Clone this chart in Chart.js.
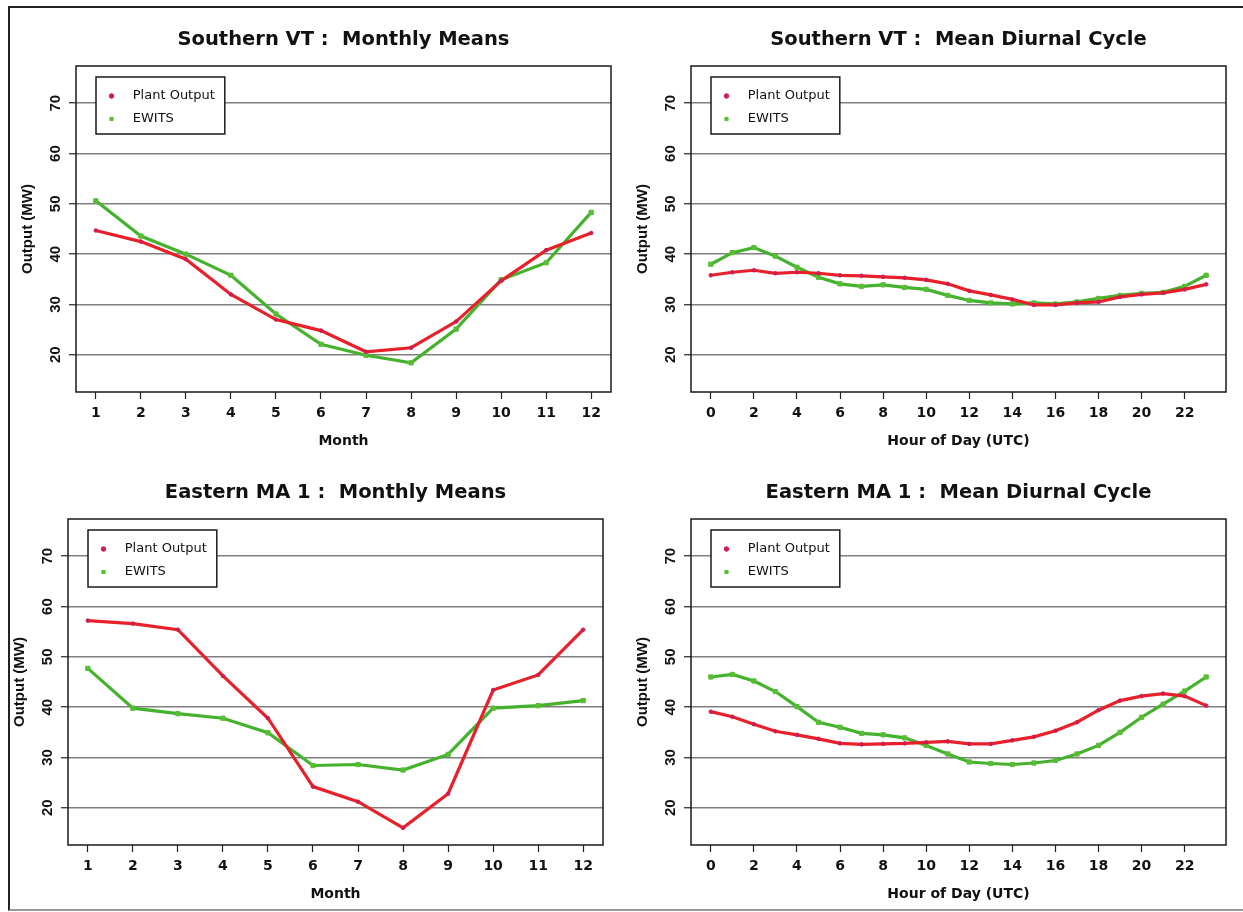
<!DOCTYPE html>
<html>
<head>
<meta charset="utf-8">
<title>Plant Output vs EWITS</title>
<script src="https://cdn.jsdelivr.net/npm/chart.js@4.4.0/dist/chart.umd.min.js"></script>
<style>
  html, body { margin: 0; padding: 0; background: #fff; }
  body { width: 1243px; height: 912px; position: relative; overflow: hidden; }
  .frame { position: absolute; left: 8px; top: 6px; width: 1260px; height: 901px;
           border-left: 2px solid #222; border-top: 2px solid #222; border-bottom: 2px solid #999; }
  canvas { position: absolute; }
  #vtMonthly { left: 0px; top: 0px; }
  #vtDiurnal { left: 615px; top: 0px; }
  #maMonthly { left: -8px; top: 453px; }
  #maDiurnal { left: 615px; top: 453px; }
</style>
</head>
<body>
<div class="frame"></div>
<canvas id="vtMonthly" width="620" height="460"></canvas>
<canvas id="vtDiurnal" width="620" height="460"></canvas>
<canvas id="maMonthly" width="620" height="460"></canvas>
<canvas id="maDiurnal" width="620" height="460"></canvas>
<script>
"use strict";

// x categories and tick labels
const months = [1, 2, 3, 4, 5, 6, 7, 8, 9, 10, 11, 12];
const hours = [0, 1, 2, 3, 4, 5, 6, 7, 8, 9, 10, 11, 12, 13, 14, 15, 16, 17, 18, 19, 20, 21, 22, 23];
const monthTicks = [1, 2, 3, 4, 5, 6, 7, 8, 9, 10, 11, 12];
const hourTicks = [0, 2, 4, 6, 8, 10, 12, 14, 16, 18, 20, 22];
const outputTicks = [20, 30, 40, 50, 60, 70];

// Southern VT (MW)
const vtMonthlyPlant = [44.7, 42.5, 39.0, 32.0, 27.0, 24.8, 20.6, 21.4, 26.6, 34.7, 40.8, 44.2];
const vtMonthlyEwits = [50.6, 43.6, 40.0, 35.8, 28.1, 22.1, 19.9, 18.4, 25.1, 34.9, 38.3, 48.3];
const vtDiurnalPlant = [35.8, 36.4, 36.8, 36.2, 36.4, 36.2, 35.8, 35.7, 35.5, 35.3, 34.9, 34.1,
                        32.7, 31.9, 31.0, 29.9, 29.9, 30.3, 30.5, 31.5, 32.0, 32.3, 33.0, 34.0];
const vtDiurnalEwits = [38.0, 40.3, 41.3, 39.6, 37.4, 35.4, 34.1, 33.6, 33.9, 33.4, 33.0, 31.8,
                        30.8, 30.3, 30.1, 30.3, 30.1, 30.5, 31.2, 31.8, 32.2, 32.4, 33.6, 35.8];

// Eastern MA 1 (MW)
const maMonthlyPlant = [57.2, 56.6, 55.4, 46.2, 37.8, 24.2, 21.2, 16.0, 22.8, 43.4, 46.4, 55.4];
const maMonthlyEwits = [47.7, 39.8, 38.7, 37.8, 34.9, 28.4, 28.6, 27.5, 30.6, 39.8, 40.3, 41.3];
const maDiurnalPlant = [39.1, 38.1, 36.6, 35.2, 34.5, 33.7, 32.8, 32.6, 32.7, 32.8, 33.0, 33.2,
                        32.7, 32.7, 33.4, 34.1, 35.3, 37.0, 39.4, 41.3, 42.2, 42.7, 42.2, 40.3];
const maDiurnalEwits = [46.0, 46.5, 45.2, 43.1, 40.1, 37.0, 36.0, 34.8, 34.5, 33.9, 32.4, 30.7,
                        29.1, 28.8, 28.6, 28.9, 29.4, 30.7, 32.4, 35.0, 38.0, 40.6, 43.2, 46.0];

const WIDE = "'DejaVu Sans', sans-serif";
const NARROW = "'Liberation Sans', Arial, sans-serif";
Chart.defaults.font.family = WIDE;
Chart.defaults.color = '#111';

/* box round the plot area, and a framed legend sitting inside it */
const plotFrame = {
    id: 'plotFrame',
    afterLayout(chart, args, opts) {
        const lg = chart.legend, area = chart.chartArea;
        lg.left = area.left + opts.legendX;
        lg.top = area.top + opts.legendY;
        lg.right = lg.left + lg.width;
        lg.bottom = lg.top + lg.height;
    },
    afterDraw(chart) {
        const ctx = chart.ctx, a = chart.chartArea;
        const hb = chart.legend.legendHitBoxes;
        ctx.save();
        ctx.strokeStyle = '#1a1a1a';
        ctx.lineWidth = 1.5;
        ctx.strokeRect(a.left, a.top, a.right - a.left, a.bottom - a.top);

        const x0 = Math.min(...hb.map(h => h.left)) - 9;
        const y0 = Math.min(...hb.map(h => h.top)) - 12.5;
        const x1 = Math.max(...hb.map(h => h.left + h.width)) + 10;
        const y1 = Math.max(...hb.map(h => h.top + h.height)) + 8.5;
        ctx.fillStyle = '#fff';
        ctx.fillRect(x0, y0, x1 - x0, y1 - y0);
        ctx.strokeRect(x0, y0, x1 - x0, y1 - y0);
        ctx.restore();
        // legend again, on top of the white box
        chart.legend.draw();
    }
};

function drawPanel(id, title, xTitle, xValues, xTicks, xMin, xMax, plant, ewits) {
    const ctx = document.getElementById(id).getContext('2d');
    return new Chart(ctx, {
        type: 'line',
        data: {
            datasets: [
                {
                    label: 'Plant Output',
                    data: xValues.map((x, i) => ({ x: x, y: plant[i] })),
                    borderColor: '#e8202a',
                    borderWidth: 3.2,
                    pointStyle: 'circle',
                    pointRadius: 1.8,
                    pointBorderWidth: 1,
                    pointBackgroundColor: '#cf1c52',
                    pointBorderColor: '#cf1c52',
                    tension: 0
                },
                {
                    label: 'EWITS',
                    data: xValues.map((x, i) => ({ x: x, y: ewits[i] })),
                    borderColor: '#45b22e',
                    borderWidth: 3.2,
                    pointStyle: 'rect',
                    pointRadius: 3,
                    pointBorderWidth: 1,
                    pointBackgroundColor: '#58bd35',
                    pointBorderColor: '#58bd35',
                    tension: 0
                }
            ]
        },
        options: {
            responsive: false,
            animation: false,
            layout: { padding: { left: 0, right: 9, top: 0, bottom: 0 } },
            plugins: {
                title: {
                    display: true,
                    text: title,
                    fullSize: false,
                    color: '#111',
                    font: { family: WIDE, size: 19.5, weight: 'bold' },
                    padding: { top: 28.3, bottom: 14.3 }
                },
                legend: {
                    position: 'chartArea',
                    align: 'start',
                    labels: {
                        usePointStyle: true,
                        boxWidth: 13,
                        boxHeight: 3.2,
                        padding: 10,
                        color: '#111',
                        font: { family: WIDE, size: 13 },
                        generateLabels(chart) {
                            const items = Chart.defaults.plugins.legend.labels.generateLabels(chart);
                            items.forEach(it => { it.text = '  ' + it.text; });
                            return items;
                        }
                    }
                },
                tooltip: { enabled: false },
                plotFrame: { legendX: 19, legendY: 13.5 }
            },
            scales: {
                x: {
                    type: 'linear',
                    min: xMin,
                    max: xMax,
                    afterBuildTicks: s => { s.ticks = xTicks.map(v => ({ value: v })); },
                    afterFit: s => { s.height = 68; },
                    ticks: { font: { family: WIDE, size: 14, weight: 'bold' }, color: '#111',
                             padding: 6, maxRotation: 0, autoSkip: false },
                    grid: { drawOnChartArea: false, drawTicks: true, tickLength: 7,
                            tickColor: '#222', tickWidth: 1.2 },
                    border: { display: false },
                    title: { display: true, text: xTitle, color: '#111',
                             font: { family: WIDE, size: 14, weight: 'bold' },
                             padding: { top: 0, bottom: 10.6 } }
                },
                y: {
                    type: 'linear',
                    min: 12.6,
                    max: 77.4,
                    afterBuildTicks: s => { s.ticks = outputTicks.map(v => ({ value: v })); },
                    afterFit: s => { s.width = 76; },
                    ticks: { font: { family: NARROW, size: 15, weight: 'bold' }, color: '#111',
                             minRotation: 90, maxRotation: 90, crossAlign: 'center', padding: 5 },
                    grid: { color: '#7f7f7f', lineWidth: 1.5, tickLength: 7,
                            tickColor: '#222', tickWidth: 1.2 },
                    border: { display: false },
                    title: { display: true, text: 'Output (MW)', color: '#111',
                             font: { family: NARROW, size: 15, weight: 'bold' },
                             padding: { top: 19, bottom: 0 } }
                }
            }
        },
        plugins: [plotFrame]
    });
}

drawPanel('vtMonthly', 'Southern VT :  Monthly Means', 'Month',
          months, monthTicks, 0.56, 12.44, vtMonthlyPlant, vtMonthlyEwits);
drawPanel('vtDiurnal', 'Southern VT :  Mean Diurnal Cycle', 'Hour of Day (UTC)',
          hours, hourTicks, -0.92, 23.92, vtDiurnalPlant, vtDiurnalEwits);
drawPanel('maMonthly', 'Eastern MA 1 :  Monthly Means', 'Month',
          months, monthTicks, 0.56, 12.44, maMonthlyPlant, maMonthlyEwits);
drawPanel('maDiurnal', 'Eastern MA 1 :  Mean Diurnal Cycle', 'Hour of Day (UTC)',
          hours, hourTicks, -0.92, 23.92, maDiurnalPlant, maDiurnalEwits);
</script>
</body>
</html>
